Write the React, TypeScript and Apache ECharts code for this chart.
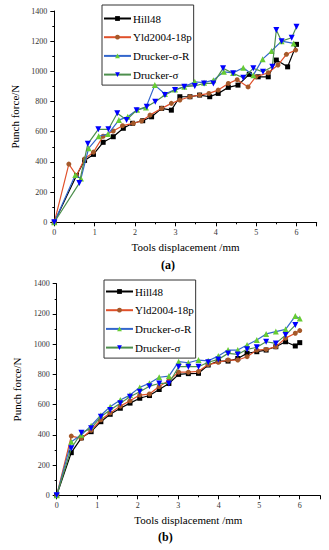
import React, { useEffect, useRef } from "react";
import * as echarts from "echarts";

// ---------- Data (a) ----------
const hillAX = [0, 0.55, 0.75, 0.97, 1.21, 1.46, 1.71, 1.94, 2.19, 2.41, 2.66, 2.9, 3.11, 3.36, 3.6, 3.85, 4.06, 4.31, 4.55, 4.83, 5.05, 5.3, 5.5, 5.78, 6.0];
const hillAY = [0, 310, 410, 450, 530, 567, 623, 656, 673, 699, 755, 743, 832, 832, 843, 832, 854, 894, 909, 980, 964, 964, 1075, 1030, 1179];
const yldAX = [0, 0.36, 0.55, 0.75, 0.97, 1.21, 1.46, 1.69, 1.96, 2.16, 2.37, 2.66, 2.9, 3.11, 3.36, 3.6, 3.83, 4.06, 4.31, 4.53, 4.8, 4.99, 5.3, 5.54, 5.75, 5.98];
const yldAY = [0, 386, 310, 420, 465, 570, 605, 640, 656, 671, 710, 755, 788, 810, 832, 843, 854, 876, 920, 945, 897, 964, 991, 1042, 1113, 1141];
const drrAX = [0, 0.52, 0.66, 0.85, 1.1, 1.33, 1.6, 1.82, 2.05, 2.27, 2.49, 2.74, 2.99, 3.22, 3.48, 3.71, 3.94, 4.2, 4.43, 4.68, 4.93, 5.16, 5.38, 5.63, 5.93];
const drrAY = [0, 313, 290, 490, 570, 585, 677, 700, 745, 760, 909, 850, 880, 898, 931, 925, 942, 997, 990, 1024, 975, 1081, 1135, 1200, 1185];
const drsAX = [0, 0.62, 0.83, 1.09, 1.34, 1.56, 1.79, 2.04, 2.29, 2.5, 2.74, 2.99, 3.22, 3.48, 3.71, 3.94, 4.18, 4.43, 4.68, 4.93, 5.17, 5.4, 5.5, 5.63, 5.88, 6.0];
const drsAY = [0, 260, 520, 616, 616, 722, 678, 743, 766, 799, 843, 876, 898, 903, 920, 920, 1020, 987, 958, 1020, 997, 1030, 1274, 1200, 1223, 1295];

// ---------- Data (b) ----------
const hillBX = [0, 0.36, 0.61, 0.85, 1.09, 1.32, 1.57, 1.81, 2.05, 2.29, 2.53, 2.77, 3.01, 3.25, 3.5, 3.74, 3.99, 4.23, 4.47, 4.7, 4.94, 5.17, 5.41, 5.65, 5.89, 6.0];
const hillBY = [0, 282, 380, 421, 487, 536, 576, 610, 642, 660, 700, 740, 800, 805, 807, 862, 888, 888, 905, 940, 950, 961, 983, 1016, 988, 1010];
const yldBX = [0, 0.36, 0.61, 0.85, 1.09, 1.32, 1.57, 1.81, 2.05, 2.29, 2.53, 2.77, 3.01, 3.25, 3.5, 3.74, 3.99, 4.23, 4.47, 4.7, 4.94, 5.17, 5.41, 5.65, 5.89, 6.0];
const yldBY = [0, 392, 377, 430, 500, 545, 590, 625, 663, 670, 720, 760, 815, 815, 820, 865, 880, 895, 895, 917, 961, 965, 983, 1040, 1072, 1090];
const drrBX = [0, 0.36, 0.61, 0.85, 1.09, 1.32, 1.57, 1.81, 2.05, 2.29, 2.53, 2.77, 3.01, 3.25, 3.5, 3.74, 3.99, 4.23, 4.47, 4.7, 4.94, 5.17, 5.41, 5.65, 5.89, 6.0];
const drrBY = [0, 355, 400, 460, 530, 586, 630, 663, 714, 741, 781, 789, 884, 877, 895, 890, 921, 961, 961, 995, 1028, 1068, 1083, 1098, 1186, 1170];
const drsBX = [0, 0.36, 0.61, 0.85, 1.09, 1.32, 1.57, 1.81, 2.05, 2.29, 2.53, 2.77, 3.01, 3.25, 3.5, 3.74, 3.99, 4.23, 4.47, 4.7, 4.94, 5.17, 5.41, 5.65, 5.89];
const drsBY = [0, 311, 414, 443, 520, 564, 609, 652, 685, 722, 740, 740, 851, 851, 851, 880, 899, 939, 932, 966, 979, 1016, 1005, 1060, 1126];

const seriesNames = ["Hill48", "Yld2004-18p", "Drucker-σ-R", "Drucker-σ"];
const xTitle = "Tools displacement /mm";
const yTitle = "Punch force/N";
const panelLabels = ["(a)", "(b)"];

const FONT = "'Liberation Serif', 'DejaVu Serif', serif";

const styles = [
  { line: "#000000", item: "#000000", symbol: "rect", rotate: 0, size: 5 },
  { line: "#e0502a", item: "#a5592a", symbol: "circle", rotate: 0, size: 5 },
  { line: "#3366cc", item: "#66cc33", symbol: "triangle", rotate: 0, size: 6 },
  { line: "#4d8f4d", item: "#0000ff", symbol: "triangle", rotate: 180, size: 6 },
];

const zip = (xs: number[], ys: number[]) => xs.map((x, i) => [x, ys[i]]);

export default function App() {
  const ref = useRef<HTMLDivElement>(null);
  useEffect(() => {
    if (!ref.current) return;
    const chart = echarts.init(ref.current, null, { renderer: "svg" });
    const dataA = [zip(hillAX, hillAY), zip(yldAX, yldAY), zip(drrAX, drrAY), zip(drsAX, drsAY)];
    const dataB = [zip(hillBX, hillBY), zip(yldBX, yldBY), zip(drrBX, drrBY), zip(drsBX, drsBY)];

    const xAxisCommon = (gi: number) => ({
      type: "value",
      gridIndex: gi,
      min: 0,
      max: 6.5,
      interval: 1,
      name: xTitle,
      nameLocation: "middle",
      nameGap: 19,
      nameTextStyle: { fontFamily: FONT, fontSize: 11, color: "#000" },
      axisLine: { show: true, lineStyle: { color: "#000", width: 1 } },
      axisTick: { show: true, inside: false, length: 4, lineStyle: { color: "#000" } },
      minorTick: { show: true, splitNumber: 2, length: 2, lineStyle: { color: "#000" } },
      axisLabel: { fontFamily: FONT, fontSize: 8, color: "#333", margin: 6, showMaxLabel: false },
      splitLine: { show: false },
    });
    const yAxisCommon = (gi: number) => ({
      type: "value",
      gridIndex: gi,
      min: 0,
      max: 1400,
      interval: 200,
      name: yTitle,
      nameLocation: "middle",
      nameGap: 34,
      nameTextStyle: { fontFamily: FONT, fontSize: 11, color: "#000" },
      axisLine: { show: true, lineStyle: { color: "#000", width: 1 } },
      axisTick: { show: true, inside: false, length: 4, lineStyle: { color: "#000" } },
      minorTick: { show: true, splitNumber: 2, length: 2, lineStyle: { color: "#000" } },
      axisLabel: {
        fontFamily: FONT,
        fontSize: 8,
        color: "#333",
        margin: 7,
        formatter: (v: number) => String(v),
      },
      splitLine: { show: false },
    });

    const mkSeries = (data: number[][][], gi: number) =>
      data.map((d, i) => ({
        type: "line",
        name: seriesNames[i],
        xAxisIndex: gi,
        yAxisIndex: gi,
        data: d,
        symbol: styles[i].symbol,
        symbolRotate: styles[i].rotate,
        symbolSize: styles[i].size,
        showAllSymbol: true,
        lineStyle: { color: styles[i].line, width: 1.2 },
        itemStyle: { color: styles[i].item },
        z: 2 + i,
      }));

    const legendCommon = {
      orient: "vertical",
      data: seriesNames,
      itemWidth: 27,
      itemHeight: 6,
      itemGap: 7.7,
      borderColor: "#333",
      borderWidth: 1,
      borderRadius: 0,
      backgroundColor: "#fff",
      textStyle: { fontFamily: FONT, fontSize: 11, color: "#000", padding: [0, 0, 0, -3] },
      selectedMode: false,
    };

    chart.setOption({
      animation: false,
      backgroundColor: "#fff",
      grid: [
        { left: 54.3, width: 262.4, top: 11, height: 211.3 },
        { left: 56.7, width: 263.3, top: 283.7, height: 211.6 },
      ],
      xAxis: [xAxisCommon(0), xAxisCommon(1)],
      yAxis: [yAxisCommon(0), yAxisCommon(1)],
      legend: [
        { ...legendCommon, left: 102, top: 5, padding: [8, 2, 5, 1], width: 91 },
        { ...legendCommon, left: 104, top: 280, padding: [6, 2, 5, 1], width: 93 },
      ],
      graphic: [
        {
          type: "text",
          left: 161,
          top: 259,
          style: { text: panelLabels[0], font: `bold 12px ${FONT}`, fill: "#000" },
        },
        {
          type: "text",
          left: 158,
          top: 531,
          style: { text: panelLabels[1], font: `bold 12px ${FONT}`, fill: "#000" },
        },
      ],
      series: [...mkSeries(dataA, 0), ...mkSeries(dataB, 1)],
    });
    return () => chart.dispose();
  }, []);
  return (
    <div
      ref={ref}
      style={{ position: "absolute", left: 0, top: 0, width: 329, height: 550, background: "#fff" }}
    />
  );
}
